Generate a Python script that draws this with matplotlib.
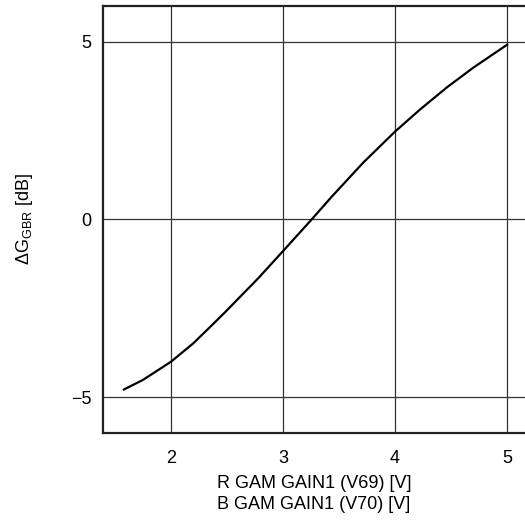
import matplotlib
matplotlib.use("Agg")
import matplotlib.pyplot as plt

plt.rcParams['font.family'] = ['Liberation Sans', 'DejaVu Sans']
plt.rcParams['mathtext.fontset'] = 'custom'
plt.rcParams['mathtext.rm'] = 'Liberation Sans'
plt.rcParams['mathtext.it'] = 'Liberation Sans:italic'

# gain control voltage vs. gain difference
voltage = [1.58, 1.75, 2.0, 2.2, 2.35, 2.482, 2.78, 3.0, 3.256, 3.435,
           3.717, 4.0, 4.223, 4.462, 4.70, 5.0]
delta_g = [-4.78, -4.51, -4.0, -3.48, -3.02, -2.61, -1.65, -0.89, 0.0, 0.64,
           1.60, 2.47, 3.09, 3.71, 4.27, 4.91]

xticks = [2, 3, 4, 5]
yticks = [-5, 0, 5]

fig = plt.figure(figsize=(5.25, 5.21), dpi=100)
ax = fig.add_axes([0.196, 0.169, 0.804, 0.8195])

ax.plot(voltage, delta_g, color='black', lw=1.6, solid_joinstyle='round')

ax.set_xlim(1.393, 5.16)
ax.set_ylim(-6, 6)
ax.set_xticks(xticks)
ax.set_yticks(yticks)
ax.grid(True, color='#333333', lw=0.9)
ax.tick_params(length=0, labelsize=13, colors='black')
ax.tick_params(axis='x', pad=12)
ax.tick_params(axis='y', pad=8)

for side in ('left', 'bottom', 'top'):
    ax.spines[side].set_linewidth(1.6)
    ax.spines[side].set_color('#222222')
ax.spines['right'].set_visible(False)

ax.set_xlabel('R GAM GAIN1 (V69) [V]\nB GAM GAIN1 (V70) [V]', fontsize=13,
              linespacing=1.3, labelpad=6)
ax.set_ylabel(r'$\Delta$G$_{\mathrm{GBR}}$ [dB]', fontsize=13, labelpad=26)

fig.savefig('out.png', dpi=100)
